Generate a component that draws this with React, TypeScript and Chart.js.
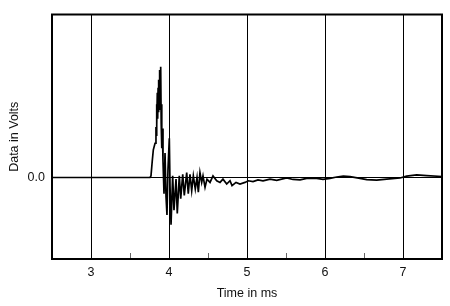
import React, { useEffect, useRef } from "react";
import { Chart, registerables } from "chart.js";

Chart.register(...registerables);

const timeMs: number[] = [
  2.5, 3.756, 3.769, 3.785, 3.799, 3.821, 3.833, 3.837, 3.84, 3.845, 3.85, 3.855, 3.86, 3.865, 3.87, 3.875,
  3.88, 3.885, 3.89, 3.897, 3.9, 3.905, 3.91, 3.915, 3.923, 3.936, 3.949, 3.962, 3.974, 3.987,
  4.004, 4.013, 4.026, 4.047, 4.064, 4.09, 4.106, 4.132, 4.15, 4.176, 4.196, 4.227, 4.247,
  4.269, 4.291, 4.312, 4.337, 4.359, 4.376, 4.397, 4.419, 4.436, 4.462, 4.487, 4.526, 4.564,
  4.612, 4.654, 4.692, 4.74, 4.782, 4.808, 4.859, 4.91, 4.974, 5.017, 5.077, 5.141, 5.205,
  5.295, 5.381, 5.509, 5.59, 5.68, 5.765, 5.894, 5.974, 6.064, 6.15, 6.235, 6.321, 6.449,
  6.535, 6.663, 6.791, 6.962, 7.047, 7.176, 7.304, 7.5,
];

const volts: number[] = [
  0, 0, 0.01, 0.1, 0.17, 0.21, 0.31, 0.26, 0.45, 0.32, 0.52, 0.36, 0.55, 0.4, 0.6, 0.42,
  0.66, 0.45, 0.6, 0.68, 0.33, 0.45, 0.18, 0.3, 0.1, -0.1, 0.15, -0.12, -0.23, 0.05,
  0.24, -0.05, -0.29, 0.01, -0.2, -0.01, -0.22, 0.01, -0.13, 0.02, -0.11, 0.03, -0.1,
  0.02, -0.08, 0.01, -0.07, 0.0, -0.09, 0.03, -0.03, 0.01, -0.06, -0.01, -0.03, 0.01,
  -0.02, -0.03, -0.01, -0.04, -0.02, -0.05, -0.03, -0.04, -0.03, -0.02, -0.025, -0.015, -0.02,
  -0.01, -0.018, -0.003, -0.012, -0.015, -0.005, -0.005, -0.012, -0.005, 0.003, 0.008, 0.005, -0.005,
  -0.013, -0.016, -0.01, -0.003, 0.008, 0.016, 0.012, 0.006,
];

const xMin = 2.5;
const xMax = 7.5;
const yMin = -0.5;
const yMax = 1.0;
const xTitle = "Time in ms";
const yTitle = "Data in Volts";

const framePlugin = {
  id: "frame",
  afterDraw(chart: any) {
    const { ctx, chartArea } = chart;
    const xs = chart.scales.x;
    ctx.save();
    ctx.strokeStyle = "#666";
    ctx.lineWidth = 1;
    xs.ticks.forEach((t: any) => {
      if (Math.abs(t.value - Math.round(t.value)) > 1e-6 && t.value > xMin && t.value < xMax) {
        const px = Math.round(xs.getPixelForValue(t.value)) + 0.5;
        ctx.beginPath();
        ctx.moveTo(px, chartArea.bottom);
        ctx.lineTo(px, chartArea.bottom - 6);
        ctx.stroke();
      }
    });
    ctx.strokeStyle = "#000";
    ctx.lineWidth = 2;
    ctx.strokeRect(chartArea.left, chartArea.top, chartArea.right - chartArea.left, chartArea.bottom - chartArea.top);
    ctx.restore();
  },
};

export default function App() {
  const ref = useRef<HTMLCanvasElement | null>(null);
  useEffect(() => {
    document.body.style.margin = "0";
    const font = { family: "'Liberation Sans', Arial, sans-serif", size: 12.5 };
    const chart = new Chart(ref.current!, {
      type: "line",
      data: {
        datasets: [
          {
            data: timeMs.map((t, i) => ({ x: t, y: volts[i] })),
            borderColor: "#000",
            borderWidth: 1.7,
            pointRadius: 0,
            tension: 0,
            fill: false,
          },
        ],
      },
      options: {
        animation: false,
        responsive: false,
        maintainAspectRatio: false,
        layout: { padding: { top: 8, right: 8, left: 0, bottom: 0 } },
        plugins: { legend: { display: false }, tooltip: { enabled: false } },
        scales: {
          x: {
            type: "linear",
            min: xMin,
            max: xMax,
            afterFit: (s: any) => { s.height = 47; },
            ticks: {
              stepSize: 0.5,
              autoSkip: false,
              maxRotation: 0,
              padding: 6,
              color: "#111",
              font,
              callback: (v: any) => (Math.abs(v - Math.round(v)) < 1e-6 && v > xMin && v < xMax ? String(Math.round(v)) : ""),
            },
            grid: {
              drawTicks: false,
              color: (c: any) => {
                const v = c.tick?.value;
                return v !== undefined && Math.abs(v - Math.round(v)) < 1e-6 ? "#000" : "rgba(0,0,0,0)";
              },
              lineWidth: 1,
            },
            border: { display: false },
            title: { display: true, text: xTitle, color: "#111", font, padding: { top: 0, bottom: 5 } },
          },
          y: {
            type: "linear",
            min: yMin,
            max: yMax,
            afterFit: (s: any) => { s.width = 52; },
            ticks: {
              stepSize: 0.5,
              padding: 7,
              color: "#111",
              font,
              callback: (v: any) => (Math.abs(v) < 1e-9 ? "0.0" : ""),
            },
            grid: {
              drawTicks: false,
              color: (c: any) => (c.tick && Math.abs(c.tick.value) < 1e-9 ? "#000" : "rgba(0,0,0,0)"),
              lineWidth: 1,
            },
            border: { display: false },
            title: { display: true, text: yTitle, color: "#111", font, padding: { top: 7, bottom: 0 } },
          },
        },
      },
      plugins: [framePlugin],
    });
    return () => chart.destroy();
  }, []);
  return (
    <div style={{ width: 450, height: 306 }}>
      <canvas ref={ref} width={450} height={306} style={{ display: "block", width: 450, height: 306 }} />
    </div>
  );
}
